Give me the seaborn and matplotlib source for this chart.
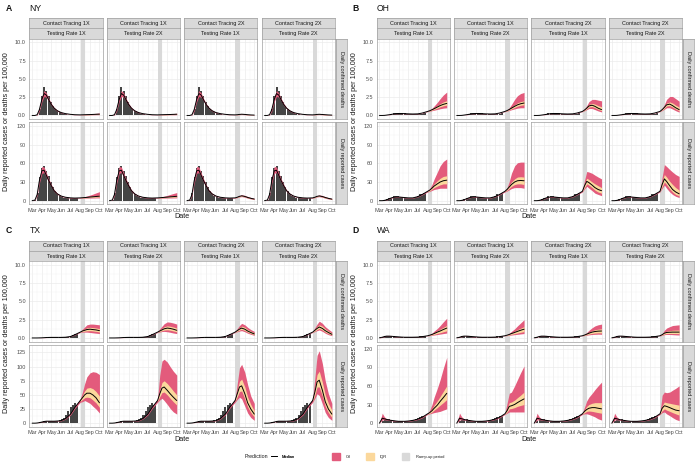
import matplotlib
matplotlib.use("Agg")
import matplotlib.pyplot as plt
import matplotlib.dates as mdates
from matplotlib.ticker import FixedLocator
from matplotlib.patches import Patch
from matplotlib.lines import Line2D
import pandas as pd
import seaborn as sns

# ---------------------------------------------------------------- data
STATES = ["NY", "OH", "TX", "WA"]
LETTERS = ["A", "B", "C", "D"]
STRIP_TOP = ["Contact Tracing 1X", "Contact Tracing 1X", "Contact Tracing 2X", "Contact Tracing 2X"]
STRIP_MID = ["Testing Rate 1X", "Testing Rate 2X", "Testing Rate 1X", "Testing Rate 2X"]
ROW_LABELS = ["Daily confirmed deaths", "Daily reported cases"]
MONTH_TICKS = ["2020-03-01", "2020-04-01", "2020-05-01", "2020-06-01",
               "2020-07-01", "2020-08-01", "2020-09-01", "2020-10-01"]
MONTH_LABELS = ["Mar", "Apr", "May", "Jun", "Jul", "Aug", "Sep", "Oct"]
DEATH_TICKS = [0, 2.5, 5, 7.5, 10]
DEATH_TICK_LABELS = ["0.0", "2.5", "5.0", "7.5", "10.0"]
CASE_TICKS = [0, 30, 60, 90, 120]
CASE_TICKS_TX = [0, 25, 50, 75, 100, 125]
RAMP_START = "2020-08-02"
RAMP_END = "2020-08-16"

FIT_DATES = ["2020-03-01", "2020-03-10", "2020-03-17", "2020-03-24", "2020-04-01", "2020-04-08",
             "2020-04-15", "2020-04-22", "2020-05-01", "2020-05-10", "2020-05-20", "2020-06-01",
             "2020-06-15", "2020-07-01", "2020-07-15", "2020-08-01"]
PROJ_DATES = ["2020-08-01", "2020-08-08", "2020-08-15", "2020-08-22",
              "2020-09-01", "2020-09-10", "2020-09-20", "2020-10-01"]
OBS_DATES = ["2020-03-01", "2020-03-08", "2020-03-15", "2020-03-22", "2020-03-29", "2020-04-05",
             "2020-04-12", "2020-04-19", "2020-04-26", "2020-05-03", "2020-05-10", "2020-05-17",
             "2020-05-24", "2020-05-31", "2020-06-07", "2020-06-14", "2020-06-21", "2020-06-28",
             "2020-07-05", "2020-07-12", "2020-07-19"]

# ---- NY
NY_DEATHS_OBS = [0, 0, 0.1, 0.9, 2.6, 3.9, 3.4, 2.6, 1.8, 1.3, 0.9, 0.6, 0.45, 0.3, 0.22, 0.17, 0.13, 0.1, 0.08, 0.07, 0.06]
NY_DEATHS_FIT_MED = [0, 0, 0.1, 0.8, 2.2, 3.0, 2.8, 2.2, 1.5, 1.0, 0.65, 0.4, 0.25, 0.15, 0.1, 0.08]
NY_DEATHS_FIT_LO = [0, 0, 0.05, 0.6, 1.9, 2.6, 2.5, 2.0, 1.35, 0.9, 0.58, 0.35, 0.22, 0.13, 0.08, 0.06]
NY_DEATHS_FIT_HI = [0, 0, 0.15, 1.0, 2.6, 3.4, 3.1, 2.4, 1.65, 1.1, 0.72, 0.45, 0.28, 0.17, 0.12, 0.1]
NY_DEATHS_MED = [[0.08, 0.09, 0.10, 0.11, 0.12, 0.14, 0.16, 0.18], [0.08, 0.09, 0.10, 0.11, 0.12, 0.13, 0.15, 0.17],
                 [0.08, 0.10, 0.14, 0.17, 0.14, 0.10, 0.07, 0.05], [0.08, 0.10, 0.14, 0.16, 0.13, 0.10, 0.07, 0.05]]
NY_DEATHS_CRI_LO = [[0.06, 0.06, 0.07, 0.07, 0.08, 0.09, 0.10, 0.10], [0.06, 0.06, 0.07, 0.07, 0.08, 0.09, 0.09, 0.10],
                    [0.06, 0.08, 0.10, 0.12, 0.10, 0.07, 0.05, 0.03], [0.06, 0.08, 0.10, 0.11, 0.09, 0.07, 0.05, 0.03]]
NY_DEATHS_CRI_HI = [[0.10, 0.12, 0.15, 0.18, 0.21, 0.25, 0.29, 0.33], [0.10, 0.12, 0.14, 0.17, 0.20, 0.23, 0.26, 0.30],
                    [0.10, 0.13, 0.19, 0.24, 0.20, 0.15, 0.11, 0.08], [0.10, 0.13, 0.19, 0.23, 0.19, 0.15, 0.11, 0.08]]
NY_DEATHS_IQR_LO = [[0.07, 0.08, 0.09, 0.09, 0.10, 0.12, 0.13, 0.14], [0.07, 0.08, 0.09, 0.09, 0.10, 0.11, 0.12, 0.13],
                    [0.07, 0.09, 0.12, 0.15, 0.12, 0.09, 0.06, 0.04], [0.07, 0.09, 0.12, 0.14, 0.11, 0.09, 0.06, 0.04]]
NY_DEATHS_IQR_HI = [[0.09, 0.10, 0.12, 0.13, 0.15, 0.17, 0.20, 0.23], [0.09, 0.10, 0.12, 0.13, 0.14, 0.16, 0.19, 0.21],
                    [0.09, 0.11, 0.16, 0.20, 0.17, 0.12, 0.09, 0.06], [0.09, 0.11, 0.16, 0.19, 0.16, 0.12, 0.09, 0.06]]
NY_CASES_OBS = [0, 1, 12, 38, 52, 55, 48, 40, 30, 22, 16, 11, 8, 6, 5, 4, 4, 3.5, 3.5, 3.5, 3.5]
NY_CASES_FIT_MED = [0, 1, 10, 32, 48, 49, 41, 33, 24, 16, 11, 7.5, 5.5, 4.5, 4.2, 4.5]
NY_CASES_FIT_LO = [0, 0.5, 8, 28, 44, 45, 38, 30, 22, 14.5, 10, 6.8, 5, 4, 3.8, 4]
NY_CASES_FIT_HI = [0, 1.5, 12, 36, 55, 54, 45, 36, 26, 17.5, 12, 8.2, 6, 5, 4.6, 5]
NY_CASES_MED = [[4.5, 4.7, 5.0, 5.3, 5.8, 6.2, 6.7, 7.2], [4.5, 4.7, 5.0, 5.3, 5.7, 6.1, 6.5, 7.0],
                [4.5, 5.5, 7.0, 7.8, 6.8, 5.2, 3.8, 2.6], [4.5, 5.5, 7.0, 7.6, 6.6, 5.1, 3.7, 2.5]]
NY_CASES_CRI_LO = [[4.0, 4.0, 4.0, 4.1, 4.2, 4.3, 4.4, 4.5], [4.0, 4.0, 4.0, 4.1, 4.2, 4.3, 4.4, 4.5],
                   [4.0, 4.8, 6.0, 6.5, 5.5, 4.0, 2.8, 1.8], [4.0, 4.8, 6.0, 6.4, 5.4, 3.9, 2.7, 1.7]]
NY_CASES_CRI_HI = [[5.0, 5.6, 6.5, 7.5, 9.0, 10.5, 12.5, 14.5], [5.0, 5.5, 6.3, 7.2, 8.5, 10.0, 11.5, 13.0],
                   [5.0, 6.3, 8.2, 9.5, 8.5, 6.8, 5.2, 3.8], [5.0, 6.3, 8.2, 9.3, 8.3, 6.6, 5.0, 3.6]]
NY_CASES_IQR_LO = [[4.3, 4.4, 4.6, 4.8, 5.1, 5.4, 5.7, 6.0], [4.3, 4.4, 4.6, 4.8, 5.0, 5.3, 5.6, 5.9],
                   [4.3, 5.2, 6.6, 7.3, 6.3, 4.7, 3.4, 2.3], [4.3, 5.2, 6.6, 7.1, 6.1, 4.6, 3.3, 2.2]]
NY_CASES_IQR_HI = [[4.7, 5.0, 5.5, 6.0, 6.7, 7.3, 8.1, 8.8], [4.7, 5.0, 5.4, 5.9, 6.5, 7.1, 7.7, 8.4],
                   [4.7, 5.8, 7.5, 8.4, 7.4, 5.8, 4.3, 3.0], [4.7, 5.8, 7.5, 8.2, 7.2, 5.7, 4.2, 2.9]]

# ---- OH
OH_DEATHS_OBS = [0, 0, 0, 0.05, 0.1, 0.2, 0.3, 0.35, 0.4, 0.35, 0.3, 0.3, 0.25, 0.25, 0.2, 0.2, 0.18, 0.15, 0.2, 0.25, 0.3]
OH_DEATHS_FIT_MED = [0, 0, 0.01, 0.05, 0.10, 0.15, 0.20, 0.24, 0.27, 0.27, 0.25, 0.22, 0.20, 0.22, 0.33, 0.55]
OH_DEATHS_FIT_LO = [0, 0, 0, 0.04, 0.08, 0.13, 0.18, 0.22, 0.25, 0.25, 0.23, 0.20, 0.18, 0.20, 0.30, 0.52]
OH_DEATHS_FIT_HI = [0, 0, 0.02, 0.06, 0.12, 0.17, 0.22, 0.26, 0.29, 0.29, 0.27, 0.24, 0.22, 0.24, 0.36, 0.58]
OH_DEATHS_MED = [[0.55, 0.65, 0.78, 0.92, 1.15, 1.35, 1.52, 1.65], [0.55, 0.67, 0.82, 1.00, 1.25, 1.45, 1.60, 1.70],
                 [0.55, 0.75, 1.00, 1.30, 1.40, 1.25, 1.00, 0.80], [0.55, 0.80, 1.10, 1.45, 1.55, 1.35, 1.05, 0.80]]
OH_DEATHS_CRI_LO = [[0.52, 0.58, 0.65, 0.72, 0.82, 0.92, 1.00, 1.05], [0.52, 0.60, 0.68, 0.78, 0.90, 1.00, 1.05, 1.05],
                    [0.52, 0.65, 0.80, 0.95, 0.95, 0.80, 0.62, 0.48], [0.52, 0.68, 0.85, 1.05, 1.05, 0.88, 0.65, 0.45]]
OH_DEATHS_CRI_HI = [[0.60, 0.75, 0.98, 1.30, 1.80, 2.30, 2.80, 3.20], [0.60, 0.78, 1.05, 1.50, 2.20, 2.70, 3.00, 3.15],
                    [0.60, 0.90, 1.35, 1.90, 2.20, 2.20, 2.10, 2.00], [0.60, 0.95, 1.50, 2.20, 2.60, 2.60, 2.30, 1.95]]
OH_DEATHS_IQR_LO = [[0.54, 0.62, 0.72, 0.84, 1.02, 1.18, 1.32, 1.42], [0.54, 0.64, 0.76, 0.90, 1.10, 1.27, 1.40, 1.47],
                    [0.54, 0.71, 0.92, 1.16, 1.22, 1.06, 0.84, 0.66], [0.54, 0.75, 1.00, 1.30, 1.35, 1.15, 0.88, 0.65]]
OH_DEATHS_IQR_HI = [[0.57, 0.69, 0.85, 1.04, 1.33, 1.60, 1.85, 2.02], [0.57, 0.71, 0.90, 1.14, 1.45, 1.72, 1.90, 2.00],
                    [0.57, 0.80, 1.12, 1.50, 1.65, 1.55, 1.35, 1.18], [0.57, 0.86, 1.24, 1.68, 1.85, 1.70, 1.40, 1.15]]
OH_CASES_OBS = [0, 0, 0.5, 2, 3.5, 5, 7, 8, 7, 6, 5.5, 5, 5, 4.5, 4.5, 5, 6, 8, 10, 11, 12]
OH_CASES_FIT_MED = [0, 0, 0.5, 1.5, 3.0, 4.5, 5.5, 6.0, 6.0, 5.5, 5.0, 4.5, 4.5, 6.5, 10.0, 15.0]
OH_CASES_FIT_LO = [0, 0, 0.3, 1.2, 2.6, 4.0, 5.0, 5.4, 5.4, 5.0, 4.5, 4.0, 4.0, 6.0, 9.3, 14.0]
OH_CASES_FIT_HI = [0, 0, 0.7, 1.8, 3.4, 5.0, 6.0, 6.6, 6.6, 6.0, 5.5, 5.0, 5.0, 7.0, 10.7, 16.0]
OH_CASES_MED = [[15, 17, 20, 23.5, 27, 30, 32, 33], [15, 18, 22, 26, 30, 32, 32.5, 32],
                [15, 24, 31, 29, 25, 21, 18, 16], [15, 26, 35, 31, 24, 18, 14, 11]]
OH_CASES_CRI_LO = [[14, 15, 16.5, 18, 19, 20, 20, 20], [14, 15.5, 17.5, 19.5, 21, 21, 21, 20],
                   [14, 19, 23, 20, 16, 12, 10, 8], [14, 20, 25, 20, 14, 10, 7, 5]]
OH_CASES_CRI_HI = [[16, 19.5, 26, 35, 46, 56, 63, 67], [16, 21, 31, 44, 56, 61, 62, 62],
                   [16, 33, 47, 46, 44, 41, 38, 35], [16, 38, 58, 55, 50, 46, 42, 39]]
OH_CASES_IQR_LO = [[14.5, 16, 18.5, 21, 23.5, 25.5, 27, 27], [14.5, 17, 20, 23, 26, 27, 27, 26],
                   [14.5, 21.5, 27, 25, 21, 17, 14, 12], [14.5, 23, 30, 26, 19, 14, 10, 8]]
OH_CASES_IQR_HI = [[15.5, 18, 22, 27, 32, 36, 39, 40], [15.5, 19.5, 25, 30, 35, 38, 38.5, 38],
                   [15.5, 27, 36, 34, 30, 27, 24, 21], [15.5, 31, 42, 38, 31, 26, 21, 17]]

# ---- TX
TX_DEATHS_OBS = [0, 0, 0, 0, 0.02, 0.04, 0.06, 0.07, 0.08, 0.08, 0.08, 0.08, 0.08, 0.08, 0.1, 0.12, 0.15, 0.2, 0.35, 0.5, 0.6]
TX_DEATHS_FIT_MED = [0, 0, 0, 0.01, 0.02, 0.04, 0.06, 0.07, 0.08, 0.08, 0.08, 0.08, 0.10, 0.20, 0.45, 0.80]
TX_DEATHS_FIT_LO = [0, 0, 0, 0, 0.01, 0.03, 0.05, 0.06, 0.07, 0.07, 0.07, 0.07, 0.09, 0.18, 0.41, 0.75]
TX_DEATHS_FIT_HI = [0, 0, 0, 0.02, 0.03, 0.05, 0.07, 0.08, 0.09, 0.09, 0.09, 0.09, 0.11, 0.22, 0.49, 0.85]
TX_DEATHS_MED = [[0.80, 0.95, 1.05, 1.15, 1.20, 1.15, 1.10, 1.00], [0.80, 0.95, 1.10, 1.25, 1.35, 1.30, 1.20, 1.05],
                 [0.80, 1.00, 1.20, 1.35, 1.20, 0.95, 0.75, 0.55], [0.80, 1.05, 1.30, 1.50, 1.30, 1.00, 0.75, 0.50]]
TX_DEATHS_CRI_LO = [[0.75, 0.80, 0.80, 0.80, 0.75, 0.70, 0.65, 0.60], [0.75, 0.82, 0.88, 0.90, 0.85, 0.78, 0.68, 0.60],
                    [0.75, 0.85, 0.95, 1.00, 0.85, 0.65, 0.50, 0.35], [0.75, 0.88, 1.00, 1.10, 0.90, 0.65, 0.45, 0.30]]
TX_DEATHS_CRI_HI = [[0.85, 1.20, 1.50, 1.80, 1.90, 1.90, 1.85, 1.80], [0.85, 1.25, 1.60, 1.95, 2.20, 2.15, 2.05, 1.90],
                    [0.85, 1.30, 1.70, 2.00, 1.80, 1.45, 1.15, 0.90], [0.85, 1.40, 1.90, 2.30, 2.00, 1.55, 1.20, 0.85]]
TX_DEATHS_IQR_LO = [[0.78, 0.88, 0.93, 0.98, 1.00, 0.96, 0.90, 0.82], [0.78, 0.89, 0.99, 1.08, 1.12, 1.06, 0.96, 0.84],
                    [0.78, 0.93, 1.08, 1.18, 1.02, 0.80, 0.62, 0.45], [0.78, 0.96, 1.15, 1.30, 1.10, 0.82, 0.60, 0.40]]
TX_DEATHS_IQR_HI = [[0.82, 1.05, 1.22, 1.38, 1.45, 1.42, 1.36, 1.28], [0.82, 1.07, 1.30, 1.52, 1.65, 1.60, 1.50, 1.35],
                    [0.82, 1.12, 1.40, 1.62, 1.45, 1.15, 0.92, 0.70], [0.82, 1.18, 1.55, 1.80, 1.60, 1.22, 0.95, 0.66]]
TX_CASES_OBS = [0, 0, 0.5, 1.5, 2.5, 3, 3.5, 3.5, 3.5, 3.5, 3.5, 4, 5, 7, 10, 15, 22, 28, 33, 35, 32]
TX_CASES_FIT_MED = [0, 0, 0.3, 1.0, 2.0, 3.0, 3.5, 3.5, 3.5, 3.5, 3.8, 4.5, 8.0, 16.0, 28.0, 40.0]
TX_CASES_FIT_LO = [0, 0, 0.2, 0.8, 1.7, 2.7, 3.1, 3.1, 3.1, 3.1, 3.4, 4.0, 7.2, 14.5, 26.0, 37.0]
TX_CASES_FIT_HI = [0, 0, 0.4, 1.2, 2.3, 3.3, 3.9, 3.9, 3.9, 3.9, 4.2, 5.0, 8.8, 17.5, 30.0, 43.0]
TX_CASES_MED = [[40, 45, 50, 53, 53, 50, 45, 36], [40, 52, 62, 64, 58, 52, 46, 40],
                [40, 52, 64, 66, 52, 36, 25, 16], [40, 55, 73, 76, 58, 38, 25, 16]]
TX_CASES_CRI_LO = [[37, 38, 40, 38, 35, 30, 25, 18], [37, 41, 44, 40, 33, 26, 20, 16],
                   [37, 42, 46, 43, 30, 18, 10, 5], [37, 44, 52, 49, 34, 19, 10, 5]]
TX_CASES_CRI_HI = [[43, 55, 70, 82, 89, 91, 90, 86], [43, 85, 110, 113, 108, 100, 92, 85],
                   [43, 70, 98, 104, 90, 68, 48, 35], [43, 80, 120, 128, 105, 75, 52, 35]]
TX_CASES_IQR_LO = [[38.5, 42, 45, 46, 45, 41, 36, 28], [38.5, 47, 54, 55, 50, 44, 38, 32],
                   [38.5, 47, 56, 57, 43, 29, 19, 11], [38.5, 50, 64, 64, 48, 30, 19, 10]]
TX_CASES_IQR_HI = [[41.5, 49, 57, 62, 63, 61, 56, 48], [41.5, 58, 72, 75, 70, 64, 57, 50],
                   [41.5, 58, 74, 78, 64, 46, 33, 22], [41.5, 62, 86, 92, 72, 50, 35, 23]]

# ---- WA
WA_DEATHS_OBS = [0.05, 0.15, 0.25, 0.28, 0.25, 0.22, 0.2, 0.18, 0.15, 0.12, 0.1, 0.1, 0.1, 0.1, 0.1, 0.1, 0.12, 0.15, 0.2, 0.25, 0.25]
WA_DEATHS_FIT_MED = [0.02, 0.10, 0.20, 0.25, 0.25, 0.23, 0.20, 0.18, 0.15, 0.12, 0.10, 0.10, 0.10, 0.12, 0.18, 0.30]
WA_DEATHS_FIT_LO = [0.0, 0.07, 0.17, 0.22, 0.22, 0.20, 0.17, 0.15, 0.12, 0.10, 0.08, 0.08, 0.08, 0.10, 0.16, 0.28]
WA_DEATHS_FIT_HI = [0.04, 0.13, 0.23, 0.28, 0.28, 0.26, 0.23, 0.21, 0.18, 0.14, 0.12, 0.12, 0.12, 0.14, 0.20, 0.32]
WA_DEATHS_MED = [[0.30, 0.38, 0.48, 0.60, 0.80, 0.95, 1.15, 1.35], [0.30, 0.38, 0.48, 0.60, 0.75, 0.90, 1.05, 1.20],
                 [0.30, 0.40, 0.52, 0.65, 0.80, 0.88, 0.93, 0.95], [0.30, 0.45, 0.65, 0.75, 0.78, 0.80, 0.80, 0.80]]
WA_DEATHS_CRI_LO = [[0.28, 0.32, 0.36, 0.40, 0.47, 0.53, 0.60, 0.67], [0.28, 0.32, 0.36, 0.40, 0.45, 0.50, 0.55, 0.60],
                    [0.28, 0.33, 0.38, 0.42, 0.48, 0.50, 0.52, 0.50], [0.28, 0.35, 0.45, 0.48, 0.47, 0.45, 0.42, 0.40]]
WA_DEATHS_CRI_HI = [[0.32, 0.45, 0.65, 0.95, 1.30, 1.70, 2.20, 2.70], [0.32, 0.45, 0.65, 0.90, 1.25, 1.65, 2.05, 2.50],
                    [0.32, 0.50, 0.75, 1.05, 1.40, 1.65, 1.80, 1.90], [0.32, 0.60, 1.05, 1.35, 1.55, 1.70, 1.75, 1.80]]
WA_DEATHS_IQR_LO = [[0.29, 0.35, 0.42, 0.50, 0.62, 0.72, 0.85, 0.98], [0.29, 0.35, 0.42, 0.50, 0.59, 0.68, 0.78, 0.88],
                    [0.29, 0.36, 0.45, 0.53, 0.62, 0.67, 0.70, 0.70], [0.29, 0.40, 0.55, 0.60, 0.61, 0.61, 0.60, 0.59]]
WA_DEATHS_IQR_HI = [[0.31, 0.41, 0.54, 0.72, 0.97, 1.20, 1.45, 1.70], [0.31, 0.41, 0.54, 0.70, 0.92, 1.13, 1.33, 1.55],
                    [0.31, 0.44, 0.60, 0.80, 1.00, 1.12, 1.20, 1.24], [0.31, 0.50, 0.78, 0.93, 1.00, 1.05, 1.07, 1.08]]
WA_CASES_OBS = [0, 3, 6, 7, 6, 5, 4, 4, 3.5, 3, 3, 3, 3, 3.5, 4, 5, 6, 8, 10, 12, 12]
WA_CASES_FIT_MED = [0, 8, 7, 6, 5, 4.5, 4, 3.5, 3, 3, 3, 3.5, 4.5, 6.5, 9.5, 15]
WA_CASES_FIT_LO = [0, 5, 5.5, 5, 4.3, 3.9, 3.5, 3, 2.6, 2.6, 2.6, 3, 4, 5.8, 8.5, 14]
WA_CASES_FIT_HI = [0, 16, 10, 7, 6, 5.2, 4.6, 4, 3.5, 3.5, 3.5, 4, 5, 7.5, 10.5, 16]
WA_CASES_MED = [[15, 17, 20, 24, 29, 35, 41, 48], [15, 20, 27, 28, 30, 33, 36, 39],
                [15, 19, 22, 24, 25, 25, 24, 23], [15, 24, 28, 27, 25, 23, 21, 20]]
WA_CASES_CRI_LO = [[14, 15, 16, 17, 18, 19, 21, 23], [14, 16, 18, 18, 18, 18, 18, 18],
                   [14, 15, 15, 14, 12, 10, 7, 5], [14, 17, 18, 15, 12, 9, 6, 4]]
WA_CASES_CRI_HI = [[16, 21, 30, 42, 56, 70, 88, 106], [16, 32, 48, 50, 60, 70, 81, 92],
                   [16, 26, 36, 42, 48, 54, 60, 66], [16, 45, 50, 49, 50, 53, 56, 60]]
WA_CASES_IQR_LO = [[14.5, 16, 18, 21, 25, 29, 33, 38], [14.5, 18, 23, 23.5, 25, 27, 28.5, 30],
                   [14.5, 17, 19, 19.5, 19, 18, 17, 16], [14.5, 20, 23, 21, 19, 17, 15, 13]]
WA_CASES_IQR_HI = [[15.5, 18.5, 23, 29, 36, 43, 51, 60], [15.5, 23, 33, 34, 37, 41, 45, 50],
                   [15.5, 21, 27, 30, 32, 33, 33, 33], [15.5, 28, 34, 33, 32, 31, 30, 29]]

# ---------------------------------------------------------------- tables built from the arrays
def metric(obs, fmed, flo, fhi, med, clo, chi, ilo, ihi):
    return dict(obs=obs, fit_med=fmed, fit_lo=flo, fit_hi=fhi, med=med,
                cri_lo=clo, cri_hi=chi, iqr_lo=ilo, iqr_hi=ihi)

DATA = {
    "NY": [metric(NY_DEATHS_OBS, NY_DEATHS_FIT_MED, NY_DEATHS_FIT_LO, NY_DEATHS_FIT_HI, NY_DEATHS_MED,
                  NY_DEATHS_CRI_LO, NY_DEATHS_CRI_HI, NY_DEATHS_IQR_LO, NY_DEATHS_IQR_HI),
           metric(NY_CASES_OBS, NY_CASES_FIT_MED, NY_CASES_FIT_LO, NY_CASES_FIT_HI, NY_CASES_MED,
                  NY_CASES_CRI_LO, NY_CASES_CRI_HI, NY_CASES_IQR_LO, NY_CASES_IQR_HI)],
    "OH": [metric(OH_DEATHS_OBS, OH_DEATHS_FIT_MED, OH_DEATHS_FIT_LO, OH_DEATHS_FIT_HI, OH_DEATHS_MED,
                  OH_DEATHS_CRI_LO, OH_DEATHS_CRI_HI, OH_DEATHS_IQR_LO, OH_DEATHS_IQR_HI),
           metric(OH_CASES_OBS, OH_CASES_FIT_MED, OH_CASES_FIT_LO, OH_CASES_FIT_HI, OH_CASES_MED,
                  OH_CASES_CRI_LO, OH_CASES_CRI_HI, OH_CASES_IQR_LO, OH_CASES_IQR_HI)],
    "TX": [metric(TX_DEATHS_OBS, TX_DEATHS_FIT_MED, TX_DEATHS_FIT_LO, TX_DEATHS_FIT_HI, TX_DEATHS_MED,
                  TX_DEATHS_CRI_LO, TX_DEATHS_CRI_HI, TX_DEATHS_IQR_LO, TX_DEATHS_IQR_HI),
           metric(TX_CASES_OBS, TX_CASES_FIT_MED, TX_CASES_FIT_LO, TX_CASES_FIT_HI, TX_CASES_MED,
                  TX_CASES_CRI_LO, TX_CASES_CRI_HI, TX_CASES_IQR_LO, TX_CASES_IQR_HI)],
    "WA": [metric(WA_DEATHS_OBS, WA_DEATHS_FIT_MED, WA_DEATHS_FIT_LO, WA_DEATHS_FIT_HI, WA_DEATHS_MED,
                  WA_DEATHS_CRI_LO, WA_DEATHS_CRI_HI, WA_DEATHS_IQR_LO, WA_DEATHS_IQR_HI),
           metric(WA_CASES_OBS, WA_CASES_FIT_MED, WA_CASES_FIT_LO, WA_CASES_FIT_HI, WA_CASES_MED,
                  WA_CASES_CRI_LO, WA_CASES_CRI_HI, WA_CASES_IQR_LO, WA_CASES_IQR_HI)],
}

# ---------------------------------------------------------------- style
CRI_COLOR = "#E35B7C"
IQR_COLOR = "#FBD89C"
RAMP_COLOR = "#D9D9D9"
BAR_COLOR = "#454545"
STRIP_FILL = "#D9D9D9"
BORDER = "#9E9E9E"
GRID = "#EBEBEB"
TXT = "#4D4D4D"

sns.set_theme(style="white")
plt.rcParams["font.family"] = ["Liberation Sans", "DejaVu Sans"]

W, H = 700, 467
fig = plt.figure(figsize=(7, 4.67), dpi=100)
fig.patch.set_facecolor("white")


def px_axes(x, y, w, h):
    return fig.add_axes([x / W, 1 - (y + h) / H, w / W, h / H])


def d2n(lst):
    return mdates.date2num(pd.to_datetime(lst))


FIT_X = d2n(FIT_DATES)
PROJ_X = d2n(PROJ_DATES)
OBS_X = d2n(OBS_DATES)
MONTH_X = d2n(MONTH_TICKS)
XLIM = (d2n(["2020-02-21"])[0], d2n(["2020-10-11"])[0])
MINOR_X = [(a + b) / 2 for a, b in zip(MONTH_X[:-1], MONTH_X[1:])]

COL_X = [29.3, 106.6, 184.1, 261.7]
COL_W = 73.3
DEATH_Y, DEATH_H = 38.8, 80.3
CASE_Y, CASE_H = 122.3, 82.1


def strip(x, y, w, h, text, rot=0):
    a = px_axes(x, y, w, h)
    a.set_facecolor(STRIP_FILL)
    a.set_xticks([])
    a.set_yticks([])
    for s in a.spines.values():
        s.set_color(BORDER)
        s.set_linewidth(0.5)
    a.text(0.5, 0.5, text, transform=a.transAxes, ha="center", va="center",
           fontsize=4.0, color="#1A1A1A", rotation=rot)


def draw_cell(ax, d, k, ylim, yticks, yminor, ylabels, first_col, bottom_row):
    ax.set_facecolor("white")
    ax.axvspan(d2n([RAMP_START])[0], d2n([RAMP_END])[0], color=RAMP_COLOR, lw=0, zorder=0.6)
    ax.bar(OBS_X, d["obs"], width=6.5, align="edge", color=BAR_COLOR, lw=0, zorder=1)
    x_all = list(FIT_X) + list(PROJ_X[1:])
    lo = d["fit_lo"] + d["cri_lo"][k][1:]
    hi = d["fit_hi"] + d["cri_hi"][k][1:]
    med = d["fit_med"] + d["med"][k][1:]
    ax.fill_between(x_all, lo, hi, color=CRI_COLOR, lw=0, zorder=2)
    ax.fill_between(PROJ_X, d["iqr_lo"][k], d["iqr_hi"][k], color=IQR_COLOR, lw=0, zorder=3)
    sns.lineplot(x=x_all, y=med, ax=ax, color="black", lw=0.7, zorder=4, legend=False)
    ax.set_xlim(*XLIM)
    ax.set_ylim(*ylim)
    ax.set_xlabel("")
    ax.set_ylabel("")
    ax.xaxis.set_major_locator(FixedLocator(MONTH_X))
    ax.xaxis.set_minor_locator(FixedLocator(MINOR_X))
    ax.yaxis.set_major_locator(FixedLocator(yticks))
    ax.yaxis.set_minor_locator(FixedLocator(yminor))
    ax.grid(which="major", color=GRID, lw=0.5)
    ax.grid(which="minor", color="#F2F2F2", lw=0.3)
    ax.set_axisbelow(True)
    for s in ax.spines.values():
        s.set_color(BORDER)
        s.set_linewidth(0.5)
    ax.tick_params(which="minor", length=0)
    ax.tick_params(which="major", length=1.6, width=0.4, color="#333333",
                   labelsize=4.0, labelcolor=TXT, pad=0.8)
    if first_col:
        ax.set_yticklabels(ylabels)
    else:
        ax.tick_params(axis="y", which="major", left=False, labelleft=False)
    if bottom_row:
        ax.set_xticklabels(MONTH_LABELS)
    else:
        ax.tick_params(axis="x", which="major", bottom=False, labelbottom=False)


def draw_panel(dx, dy, letter, st):
    fig.text((dx + 5.5) / W, 1 - (dy + 8.3) / H, letter, fontsize=6.2, fontweight="bold",
             ha="left", va="center", color="#111111")
    fig.text((dx + 29.5) / W, 1 - (dy + 8.3) / H, st, fontsize=6.2,
             ha="left", va="center", color="#111111")
    if st == "TX":
        cticks, cminor, cylim = CASE_TICKS_TX, [12.5, 37.5, 62.5, 87.5, 112.5], (-6.6, 138.6)
    else:
        cticks, cminor, cylim = CASE_TICKS, [15, 45, 75, 105], (-6.0, 126.0)
    for k in range(4):
        x = dx + COL_X[k]
        strip(x, dy + 18.0, COL_W, 10.3, STRIP_TOP[k])
        strip(x, dy + 28.4, COL_W, 10.3, STRIP_MID[k])
        axd = px_axes(x, dy + DEATH_Y, COL_W, DEATH_H)
        draw_cell(axd, DATA[st][0], k, (-0.5, 10.5), DEATH_TICKS, [1.25, 3.75, 6.25, 8.75],
                  DEATH_TICK_LABELS, k == 0, False)
        axc = px_axes(x, dy + CASE_Y, COL_W, CASE_H)
        draw_cell(axc, DATA[st][1], k, cylim, cticks, cminor,
                  [str(t) for t in cticks], k == 0, True)
    rx = dx + COL_X[3] + COL_W + 0.9
    strip(rx, dy + DEATH_Y, 11.2, DEATH_H, ROW_LABELS[0], rot=-90)
    strip(rx, dy + CASE_Y, 11.2, CASE_H, ROW_LABELS[1], rot=-90)
    fig.text((dx + 7.0) / W, 1 - (dy + 121.6) / H, "Daily reported cases or deaths per 100,000",
             rotation=90, fontsize=5.2, ha="center", va="center", color="#1A1A1A")
    fig.text((dx + 182.2) / W, 1 - (dy + 217.0) / H, "Date", fontsize=5.2,
             ha="center", va="center", color="#1A1A1A")


OFFSETS = [(0, 0), (347.3, 0), (0, 222.5), (347.3, 222.5)]
for (dx, dy), letter, st in zip(OFFSETS, LETTERS, STATES):
    draw_panel(dx, dy, letter, st)

# ---------------------------------------------------------------- legend
LY = 1 - 456.7 / H
fig.text(245 / W, LY, "Prediction", fontsize=3.8, ha="left", va="center", color="#1A1A1A")
leg1 = fig.legend(handles=[Line2D([], [], color="black", lw=0.7)], labels=["Median"],
                  loc="center left", bbox_to_anchor=(270.5 / W, LY), frameon=False,
                  fontsize=2.9, handlelength=1.6, handletextpad=1.1, borderpad=0, borderaxespad=0)
fig.add_artist(leg1)
leg2 = fig.legend(handles=[Patch(color=CRI_COLOR), Patch(color=IQR_COLOR), Patch(color=RAMP_COLOR)],
                  labels=["CrI", "IQR", "Ramp-up period"], ncol=3,
                  loc="center left", bbox_to_anchor=(332.0 / W, LY), frameon=False,
                  fontsize=2.9, handlelength=1.9, handleheight=2.5, handletextpad=1.6,
                  columnspacing=3.6, borderpad=0, borderaxespad=0)
for t in list(leg1.get_texts()) + list(leg2.get_texts()):
    t.set_color("#1A1A1A")

fig.savefig("out.png", dpi=100, facecolor="white")
